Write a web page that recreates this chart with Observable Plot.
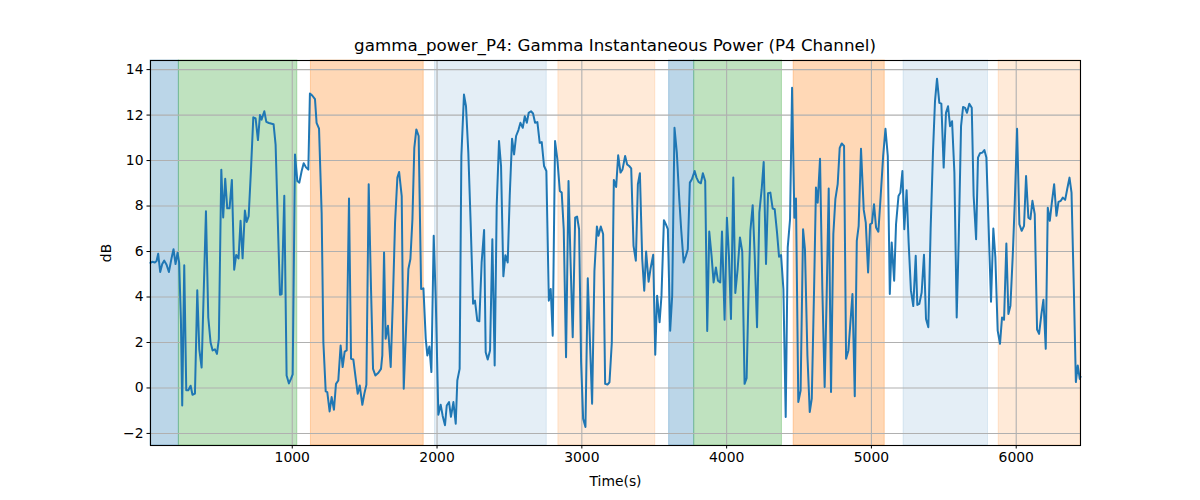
<!DOCTYPE html>
<html><head><meta charset="utf-8">
<script src="https://cdn.jsdelivr.net/npm/d3@7"></script>
<script src="https://cdn.jsdelivr.net/npm/@observablehq/plot@0.6"></script>
<style>
body{margin:0;background:#fff;}
#wrap{position:relative;width:1200px;height:500px;font-family:"DejaVu Sans",sans-serif;}
#title{position:absolute;left:150px;width:930px;top:37px;text-align:center;font-size:16.7px;color:#000;line-height:1;white-space:nowrap;}
#chart{position:absolute;left:0;top:0;}
</style></head><body>
<div id="wrap"><div id="chart"></div><div id="title">gamma_power_P4: Gamma Instantaneous Power (P4 Channel)</div></div>
<script>
const titleText = "gamma_power_P4: Gamma Instantaneous Power (P4 Channel)";
const xLabel = "Time(s)";
const yLabel = "dB";
const xTicks = [1000, 2000, 3000, 4000, 5000, 6000];
const yTicks = [-2, 0, 2, 4, 6, 8, 10, 12, 14];

// shaded phases: start, end, colour, opacity
const spanStart = [21, 217, 1129, 1986, 2838, 3603, 3776, 4463, 5222, 5879];
const spanEnd   = [217, 1035, 1908, 2758, 3507, 3776, 4382, 5092, 5805, 6444];
const spanColor = ["#1f77b4", "#2ca02c", "#ff7f0e", "#1f77b4", "#ff7f0e", "#1f77b4", "#2ca02c", "#ff7f0e", "#1f77b4", "#ff7f0e"];
const spanAlpha = [0.3, 0.3, 0.3, 0.12, 0.16, 0.3, 0.3, 0.3, 0.12, 0.16];

// [time (s), power (dB)]
const samples = [
[21,5.5],[33,5.55],[51,5.52],[63,5.58],[74,5.9],[88,5.1],[102,5.45],[116,5.6],[132,5.42],[148,5.1],[166,5.7],[180,6.1],[194,5.45],[208,5.95],[219,5.5],[231,3.0],[240,-0.77],[254,5.4],[268,-0.1],[282,-0.1],[298,0.1],[311,-0.3],[328,-0.25],[344,4.3],[358,1.7],[374,0.9],[404,7.77],[420,3.1],[436,2.0],[450,1.65],[466,1.7],[480,1.5],[493,2.15],[510,9.6],[523,7.5],[537,9.2],[551,7.9],[567,7.9],[583,9.15],[599,5.2],[613,5.85],[629,5.7],[643,7.35],[657,5.7],[673,7.8],[685,7.3],[699,7.55],[715,9.6],[731,11.9],[747,11.85],[763,10.9],[777,12.0],[788,11.8],[807,12.17],[821,11.7],[839,11.65],[871,11.6],[885,10.7],[915,4.1],[927,4.12],[945,8.45],[961,0.55],[977,0.2],[991,0.4],[1003,0.6],[1019,10.27],[1035,9.1],[1049,9.03],[1065,9.54],[1079,9.88],
[1095,9.7],[1111,9.6],[1122,12.95],[1138,12.86],[1157,12.7],[1168,11.66],[1185,11.4],[1203,7.7],[1215,2.0],[1231,-0.15],[1242,-0.18],[1258,-1.03],[1272,-0.4],[1288,-0.96],[1302,0.18],[1318,0.33],[1334,1.87],[1348,0.92],[1362,1.6],[1376,1.65],[1392,8.33],[1406,1.28],[1422,1.25],[1438,0.43],[1452,-0.25],[1466,0.11],[1484,-0.74],[1498,-0.25],[1512,0.14],[1528,8.96],[1544,4.35],[1558,0.84],[1574,0.55],[1595,0.67],[1613,0.84],[1622,1.43],[1634,5.96],[1645,2.16],[1661,2.74],[1680,0.92],[1696,4.06],[1710,7.27],[1726,9.25],[1738,9.5],[1756,8.44],[1770,-0.03],[1786,2.6],[1802,5.23],[1816,5.67],[1830,7.42],[1843,10.56],[1857,11.37],[1873,11.08],[1890,4.35],[1906,4.38],[1922,2.16],[1933,1.43],[1947,1.82],[1961,0.7],[1977,6.69],[1991,3.92],[2009,-1.18],[2025,-0.74],[2039,-1.23],
[2055,-1.64],[2067,-0.77],[2083,-0.62],[2096,-1.27],[2113,-0.62],[2129,-1.57],[2140,0.33],[2156,0.84],[2168,10.2],[2186,12.9],[2200,12.39],[2216,10.35],[2232,7.27],[2249,3.7],[2262,3.84],[2278,2.96],[2292,2.93],[2308,5.52],[2325,6.95],[2336,1.57],[2350,1.25],[2366,1.65],[2382,6.54],[2398,0.99],[2412,8.0],[2428,10.86],[2442,9.76],[2458,4.91],[2472,5.84],[2488,5.52],[2502,8.44],[2518,10.96],[2532,10.27],[2546,11.08],[2562,11.34],[2576,11.66],[2592,11.44],[2606,11.95],[2620,11.66],[2633,12.1],[2649,12.17],[2663,12.07],[2677,11.66],[2693,11.69],[2709,10.78],[2723,10.81],[2739,9.76],[2755,9.54],[2772,3.84],[2785,4.35],[2799,2.3],[2815,10.86],[2831,10.05],[2848,8.66],[2861,8.59],[2875,6.98],[2891,1.35],[2908,9.1],[2921,5.81],[2937,2.23],[2954,7.49],[2967,7.54],[2981,6.98],[2995,1.13],[3009,-1.35],[3025,-1.72],[3041,4.82],[3057,1.87],[3071,-0.69],[3087,5.15],
[3104,7.1],[3115,6.69],[3131,7.1],[3147,6.77],[3161,0.18],[3177,0.15],[3191,0.25],[3207,2.0],[3221,9.15],[3237,8.84],[3251,10.23],[3267,9.47],[3281,9.61],[3299,10.2],[3313,9.83],[3327,9.76],[3341,9.66],[3357,6.25],[3373,5.6],[3387,8.96],[3401,9.44],[3417,5.67],[3431,4.28],[3444,6.0],[3461,4.67],[3474,5.23],[3493,5.86],[3507,1.46],[3520,4.06],[3537,2.89],[3550,4.06],[3567,7.38],[3580,7.2],[3594,6.98],[3610,2.52],[3624,4.06],[3640,11.44],[3656,10.35],[3673,8.3],[3686,6.98],[3703,5.52],[3719,5.81],[3732,6.1],[3746,9.03],[3760,9.18],[3779,9.54],[3792,9.25],[3806,9.06],[3822,9.0],[3836,9.44],[3852,9.1],[3866,2.51],[3880,6.88],[3896,5.81],[3910,4.64],[3926,5.3],[3940,4.72],[3956,4.64],[3968,6.88],[3986,3.0],[4002,7.49],[4016,5.81],[4030,3.03],[4046,9.25],[4060,4.18],[4076,5.23],[4092,6.62],[4108,5.99],[4124,0.18],[4138,0.43],
[4152,4.35],[4164,6.91],[4180,8.04],[4194,5.81],[4210,2.67],[4226,7.71],[4242,8.74],[4256,9.94],[4272,5.45],[4286,8.56],[4302,8.59],[4318,7.89],[4332,7.86],[4348,6.84],[4362,5.77],[4376,5.84],[4392,4.35],[4408,-1.28],[4422,6.18],[4438,7.42],[4452,13.2],[4468,7.49],[4479,8.33],[4495,-0.62],[4511,-0.11],[4528,6.98],[4541,6.1],[4558,1.43],[4574,-1.06],[4588,-0.47],[4604,4.35],[4617,8.81],[4629,8.15],[4645,10.08],[4661,4.35],[4677,0.04],[4691,4.06],[4705,8.77],[4721,-0.18],[4737,6.77],[4751,8.3],[4767,8.96],[4781,10.56],[4795,10.75],[4811,10.64],[4825,1.28],[4841,1.65],[4855,2.89],[4869,4.13],[4885,-0.36],[4899,6.47],[4912,7.13],[4928,10.52],[4947,7.83],[4961,7.27],[4977,5.08],[4991,7.2],[5004,7.25],[5018,8.08],[5032,7.06],[5048,6.87],[5064,8.44],[5081,10.2],[5097,11.4],[5113,10.2],[5127,4.13],[5140,6.4],[5157,4.72],[5170,7.2],[5187,8.44],[5200,8.59],[5214,9.54],
[5227,6.98],[5243,8.69],[5257,6.4],[5273,4.28],[5289,3.6],[5306,5.81],[5317,3.65],[5331,3.7],[5347,4.2],[5363,5.86],[5377,3.03],[5393,2.67],[5409,6.98],[5425,10.35],[5439,12.6],[5453,13.6],[5469,12.54],[5483,12.5],[5499,9.69],[5515,12.1],[5529,12.39],[5543,11.51],[5557,11.73],[5573,9.47],[5589,3.1],[5603,6.54],[5619,11.51],[5633,12.36],[5647,12.32],[5660,12.1],[5676,12.5],[5693,12.32],[5706,8.44],[5723,6.54],[5736,10.13],[5750,10.32],[5766,10.35],[5780,10.46],[5794,10.13],[5810,6.98],[5826,3.79],[5842,7.01],[5856,5.74],[5872,2.52],[5888,1.94],[5902,3.1],[5916,3.0],[5932,6.35],[5946,3.25],[5960,3.62],[5976,5.81],[5990,8.15],[6006,11.4],[6022,7.2],[6038,6.91],[6054,7.13],[6068,9.32],[6084,7.49],[6098,7.42],[6112,8.23],[6128,7.64],[6144,2.57],[6158,2.38],[6174,3.25],[6188,3.88],[6204,1.72],[6218,7.93],[6232,7.35],[6246,8.15],[6262,8.96],[6278,7.57],[6292,8.18],[6308,8.23],[6322,8.37],[6338,8.27],[6352,8.74],[6368,9.25],[6382,8.59],[6398,4.35],[6412,0.26],[6425,0.99],[6439,0.4],[6444,0.5]
];

const series = samples.map(([t, v]) => ({t, v}));
const spans = spanStart.map((s, i) => ({start: s, end: spanEnd[i], color: spanColor[i], alpha: spanAlpha[i]}));

const chart = Plot.plot({
  width: 1200, height: 500,
  marginLeft: 150, marginRight: 120, marginTop: 60, marginBottom: 55,
  style: {fontFamily: "DejaVu Sans, sans-serif", fontSize: "13.9px", background: "#fff", color: "#000"},
  x: {domain: [21, 6444]},
  y: {domain: [-2.53, 14.4]},
  marks: [
    ...spans.map(s => Plot.rect([s], {x1: "start", x2: "end", fill: s.color, fillOpacity: s.alpha, stroke: s.color, strokeOpacity: s.alpha, strokeWidth: 1})),
    Plot.gridX({ticks: xTicks, stroke: "#b0b0b0", strokeOpacity: 1, strokeWidth: 1.1}),
    Plot.gridY({ticks: yTicks, stroke: "#b0b0b0", strokeOpacity: 1, strokeWidth: 1.1}),
    Plot.line(series, {x: "t", y: "v", stroke: "#1f77b4", strokeWidth: 2}),
    Plot.frame({stroke: "#000", strokeWidth: 1.1}),
    Plot.axisX({ticks: xTicks, tickFormat: d3.format("d"), tickSize: 3.5, tickPadding: 3.5, label: xLabel, labelAnchor: "center", labelArrow: "none", labelOffset: 40}),
    Plot.axisY({ticks: yTicks, tickFormat: d3.format("d"), tickSize: 3.5, tickPadding: 3.5, label: yLabel, labelAnchor: "center", labelArrow: "none", labelOffset: 49})
  ]
});
document.getElementById("chart").appendChild(chart);
</script>
</body></html>
